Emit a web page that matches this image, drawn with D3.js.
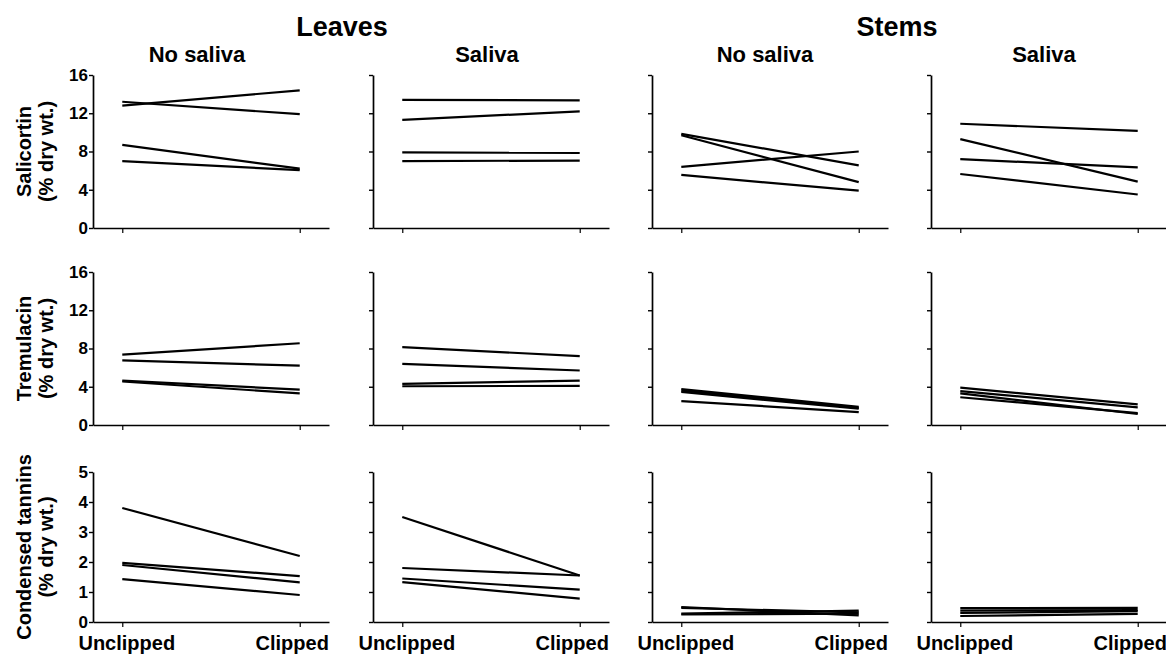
<!DOCTYPE html>
<html><head><meta charset="utf-8">
<script src="https://cdn.jsdelivr.net/npm/d3@7"></script>
<style>
body{margin:0;background:#fff;}
svg{display:block;font-family:"Liberation Sans",Arial,Helvetica,sans-serif;}
</style></head>
<body>
<svg id="chart" width="1166" height="657"></svg>
<script>
// ---- data ----
const groups = ["Unclipped", "Clipped"];
const tissues = ["Leaves", "Stems"];
const treatments = ["No saliva", "Saliva"];
const compounds = ["Salicortin", "Tremulacin", "Condensed tannins"];
const yUnitLabel = "(% dry wt.)";
const ticksGlycoside = [0, 4, 8, 12, 16];
const ticksTannin = [0, 1, 2, 3, 4, 5];

// each entry: [Unclipped, Clipped] for one genotype/replicate
const salLeavesNoSaliva = [[13.2, 11.9], [12.8, 14.4], [8.7, 6.2], [7.0, 6.05]];
const salLeavesSaliva   = [[13.4, 13.35], [11.3, 12.2], [7.9, 7.85], [7.0, 7.05]];
const salStemsNoSaliva  = [[9.85, 6.55], [9.7, 4.8], [6.4, 8.0], [5.55, 3.9]];
const salStemsSaliva    = [[10.9, 10.15], [9.3, 4.85], [7.2, 6.35], [5.65, 3.5]];

const treLeavesNoSaliva = [[7.35, 8.55], [6.75, 6.2], [4.65, 3.7], [4.55, 3.3]];
const treLeavesSaliva   = [[8.15, 7.2], [6.4, 5.7], [4.3, 4.65], [4.05, 4.1]];
const treStemsNoSaliva  = [[3.75, 1.9], [3.6, 1.8], [3.45, 1.7], [2.5, 1.35]];
const treStemsSaliva    = [[3.9, 2.15], [3.55, 1.85], [3.3, 1.15], [2.9, 1.25]];

const ctLeavesNoSaliva  = [[3.8, 2.2], [1.97, 1.53], [1.9, 1.32], [1.43, 0.9]];
const ctLeavesSaliva    = [[3.5, 1.55], [1.8, 1.55], [1.45, 1.08], [1.33, 0.78]];
const ctStemsNoSaliva   = [[0.5, 0.22], [0.47, 0.32], [0.28, 0.38], [0.25, 0.28]];
const ctStemsSaliva     = [[0.46, 0.47], [0.38, 0.4], [0.3, 0.36], [0.2, 0.27]];

const panels = [
  [salLeavesNoSaliva, salLeavesSaliva, salStemsNoSaliva, salStemsSaliva],
  [treLeavesNoSaliva, treLeavesSaliva, treStemsNoSaliva, treStemsSaliva],
  [ctLeavesNoSaliva, ctLeavesSaliva, ctStemsNoSaliva, ctStemsSaliva]
];
const rowTicks = [ticksGlycoside, ticksGlycoside, ticksTannin];

// ---- layout ----
const svg = d3.select("#chart");
const colLeft = [93, 373, 652, 931];
const axisLen = 236;
const rowTop = [75, 272, 472];
const rowBottom = [228, 425, 622];
const subTitleX = [197, 487, 765, 1044];
const titleX = [342, 897];
const labelShift = [4, -8];

rowTicks.forEach((ticks, r) => {
  const y = d3.scaleLinear().domain([0, d3.max(ticks)]).range([rowBottom[r], rowTop[r]]);
  colLeft.forEach((left, c) => {
    const x = d3.scalePoint().domain(groups).range([left, left + axisLen]).padding(0.165);
    const g = svg.append("g");

    // y axis
    const ya = g.append("g").attr("transform", `translate(${left},0)`)
      .call(d3.axisLeft(y).tickValues(ticks).tickSize(4).tickSizeOuter(0).tickPadding(1)
        .tickFormat(c === 0 ? d3.format("d") : () => ""));
    ya.select(".domain").attr("stroke-width", 1.7);
    ya.selectAll(".tick line").attr("stroke-width", 1.4);
    ya.selectAll("text").attr("font-size", 17).attr("font-weight", "bold").attr("fill", "#000");

    // x axis
    const xa = g.append("g").attr("transform", `translate(0,${rowBottom[r]})`)
      .call(d3.axisBottom(x).tickSize(5).tickSizeOuter(0).tickPadding(9)
        .tickFormat(r === 2 ? d => d : () => ""));
    xa.select(".domain").attr("stroke-width", 1.7);
    xa.selectAll(".tick line").attr("stroke-width", 1.2);
    xa.selectAll("text").attr("font-size", 20).attr("font-weight", "bold").attr("fill", "#000")
      .attr("dx", (d, i) => labelShift[i]);

    // lines
    const line = d3.line().x((d, i) => x(groups[i])).y(d => y(d));
    g.selectAll("path.series").data(panels[r][c]).enter().append("path")
      .attr("class", "series")
      .attr("d", line)
      .attr("fill", "none").attr("stroke", "#000").attr("stroke-width", 2.2);
  });

  // y label
  const cy = (rowTop[r] + rowBottom[r]) / 2;
  svg.append("text")
    .attr("transform", `translate(24,${cy}) rotate(-90)`)
    .attr("text-anchor", "middle").attr("dominant-baseline", "central")
    .attr("font-size", 20).attr("font-weight", "bold").text(compounds[r]);
  svg.append("text")
    .attr("transform", `translate(46,${cy}) rotate(-90)`)
    .attr("text-anchor", "middle").attr("dominant-baseline", "central")
    .attr("font-size", 20).attr("font-weight", "bold").text(yUnitLabel);
});

// titles
tissues.forEach((t, i) => {
  svg.append("text")
    .attr("x", titleX[i]).attr("y", 36)
    .attr("text-anchor", "middle").attr("font-size", 27).attr("font-weight", "bold").text(t);
});
subTitleX.forEach((sx, c) => {
  svg.append("text")
    .attr("x", sx).attr("y", 62)
    .attr("text-anchor", "middle").attr("font-size", 22).attr("font-weight", "bold")
    .text(treatments[c % 2]);
});
</script>
</body></html>
